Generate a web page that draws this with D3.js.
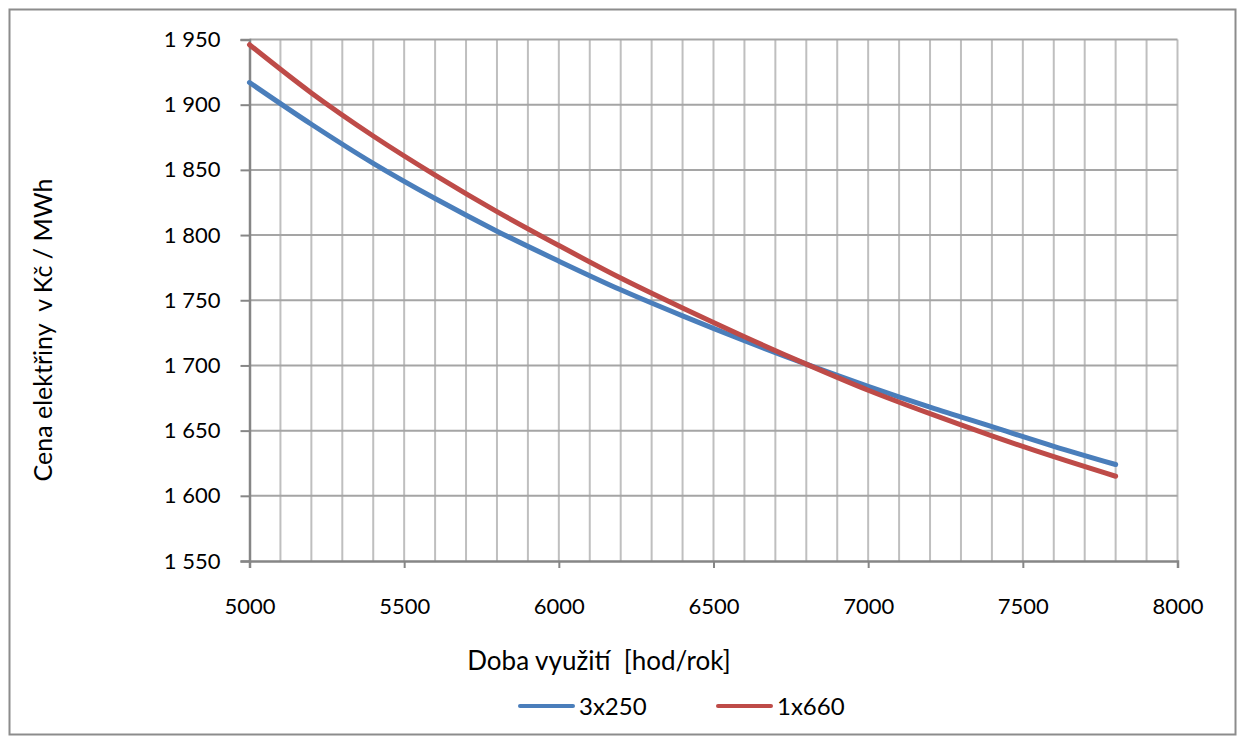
<!DOCTYPE html>
<html>
<head>
<meta charset="utf-8">
<script src="https://cdn.jsdelivr.net/npm/d3@7"></script>
<style>
    body { margin: 0; background: #fff; }
    svg { display: block; font-family: Lato, "Open Sans", sans-serif; }
</style>
</head>
<body>
<svg id="chart" width="1245" height="744"></svg>
<script>
// hours of use per year
const hours = [5000, 5200, 5400, 5600, 5800, 6000, 6200, 6400, 6600, 6800, 7000, 7200, 7400, 7600, 7800];

// price in Kč / MWh
const price3x250 = [1917, 1885, 1855, 1828, 1803, 1780, 1758, 1738, 1719, 1701, 1684, 1668, 1653, 1638, 1624];
const price1x660 = [1946, 1909, 1876, 1846, 1818, 1792, 1767, 1744, 1722, 1701, 1681, 1663, 1646, 1630, 1615];

const seriesNames = ["3x250", "1x660"];

const xTicks = [5000, 5500, 6000, 6500, 7000, 7500, 8000];
const yTicks = [1550, 1600, 1650, 1700, 1750, 1800, 1850, 1900, 1950];

const colors = ["#4a7ebb", "#be4b48"];

const svg = d3.select("#chart");

const plot = {left: 249.5, right: 1177.5, top: 39.5, bottom: 561};

const x = d3.scaleLinear().domain([5000, 8000]).range([plot.left, plot.right]);
const y = d3.scaleLinear().domain([1550, 1950]).range([plot.bottom, plot.top]);

const czFormat = d3.formatLocale({decimal: ",", thousands: " ", grouping: [3], currency: ["", ""]}).format(",");

// outer border
svg.append("rect")
    .attr("x", 9.5).attr("y", 9.5)
    .attr("width", 1226).attr("height", 725)
    .attr("fill", "none")
    .attr("stroke", "#8c8c8c")
    .attr("stroke-width", 2);

// gridlines: vertical every 100 hours, horizontal on the y ticks
svg.append("g")
    .selectAll("line")
    .data(d3.range(5100, 8001, 100))
    .join("line")
    .attr("x1", d => x(d)).attr("x2", d => x(d))
    .attr("y1", plot.top).attr("y2", plot.bottom)
    .attr("stroke", "#bfbfbf")
    .attr("stroke-width", 2);

svg.append("g")
    .selectAll("line")
    .data(yTicks.slice(1))
    .join("line")
    .attr("x1", plot.left).attr("x2", plot.right)
    .attr("y1", d => y(d)).attr("y2", d => y(d))
    .attr("stroke", "#a5a5a5")
    .attr("stroke-width", 2);

// axes
const yAxis = svg.append("g")
    .attr("transform", `translate(${plot.left},0)`)
    .call(d3.axisLeft(y).tickValues(yTicks).tickSize(9).tickPadding(20).tickFormat(czFormat));

const xAxis = svg.append("g")
    .attr("transform", `translate(0,${plot.bottom})`)
    .call(d3.axisBottom(x).tickValues(xTicks).tickSize(7).tickFormat(d3.format("d")));

[xAxis, yAxis].forEach(a => {
    a.select(".domain").attr("stroke", "#868686").attr("stroke-width", 2.5);
    a.selectAll(".tick line").attr("stroke", "#868686").attr("stroke-width", 2);
    a.selectAll(".tick text")
        .attr("fill", "#000")
        .style("font-size", "22px")
        .style("font-family", "Lato, sans-serif");
});

xAxis.selectAll(".tick text").attr("y", 53).attr("dy", 0);

// lines
const line = d3.line()
    .x(d => x(d[0]))
    .y(d => y(d[1]))
    .curve(d3.curveMonotoneX);

[price3x250, price1x660].forEach((values, i) => {
    svg.append("path")
        .datum(hours.map((h, j) => [h, values[j]]))
        .attr("d", line)
        .attr("fill", "none")
        .attr("stroke", colors[i])
        .attr("stroke-width", 5)
        .attr("stroke-linecap", "round")
        .attr("stroke-linejoin", "round");
});

// axis titles
svg.append("text")
    .attr("x", 599).attr("y", 670)
    .attr("text-anchor", "middle")
    .style("font-size", "26px")
    .style("white-space", "pre")
    .text("Doba využití  [hod/rok]");

svg.append("text")
    .attr("transform", "translate(52,330) rotate(-90)")
    .attr("text-anchor", "middle")
    .style("font-size", "25px")
    .style("white-space", "pre")
    .text("Cena elektřiny  v Kč / MWh");

// legend
const legendX = [520, 718];
seriesNames.forEach((name, i) => {
    const g = svg.append("g").attr("transform", `translate(${legendX[i]},706)`);
    g.append("line")
        .attr("x1", 0).attr("x2", 53)
        .attr("stroke", colors[i])
        .attr("stroke-width", 4)
        .attr("stroke-linecap", "round");
    g.append("text")
        .attr("x", 59).attr("y", 9)
        .style("font-size", "24px")
        .text(name);
});
</script>
</body>
</html>
